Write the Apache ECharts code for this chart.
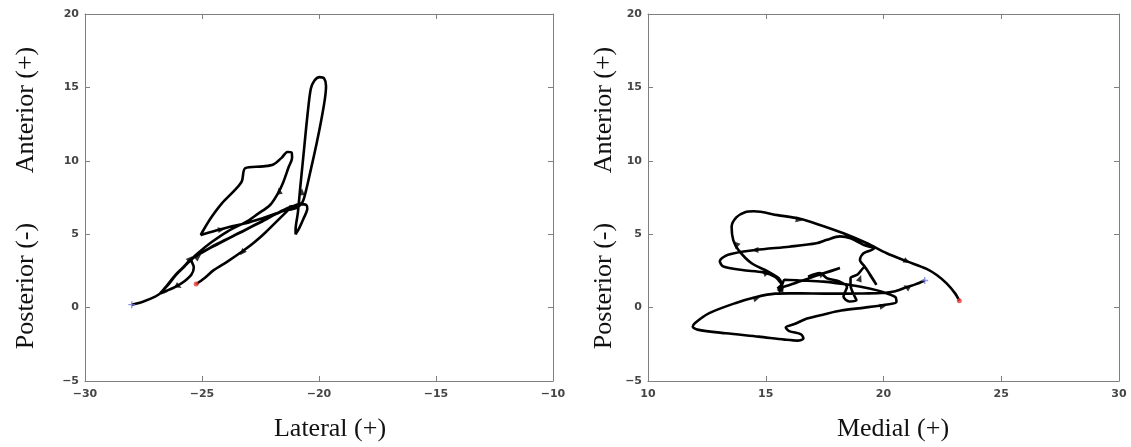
<!DOCTYPE html>
<html>
<head>
<meta charset="utf-8">
<script src="https://cdn.jsdelivr.net/npm/echarts@6/dist/echarts.min.js"></script>
<style>
html,body{margin:0;padding:0;background:#fff;}
#c{width:1131px;height:447px;}
</style>
</head>
<body>
<div id="c"></div>
<script>
// ---------- data ----------
const xTicksLeft = [-30, -25, -20, -15, -10];
const xTicksRight = [10, 15, 20, 25, 30];
const yTicks = [-5, 0, 5, 10, 15, 20];

// Left panel trajectory (Lateral vs Anterior/Posterior)
const leftPath = [
  [-28.0,0.2],[-27.5,0.42],[-27.0,0.75],[-26.8,0.95],
  [-26.5,1.5],[-26.15,2.2],[-25.8,2.75],[-25.5,3.25],
  [-25.0,3.75],[-24.4,4.3],[-23.5,5.0],[-22.6,5.75],[-21.8,6.4],[-21.2,6.85],
  [-20.8,7.05],[-20.55,7.0],[-20.5,6.75],[-20.65,6.1],[-20.85,5.4],[-21.0,5.0],[-21.0,5.3],
  [-20.9,6.5],[-20.8,8.2],[-20.65,10.6],[-20.5,13.0],[-20.35,14.9],[-20.2,15.45],[-19.98,15.7],[-19.78,15.6],[-19.7,15.1],[-19.75,14.2],
  [-19.9,12.8],[-20.1,11.2],[-20.35,9.4],[-20.55,8.0],[-20.7,7.2],[-20.95,6.8],
  [-21.5,6.6],[-22.2,6.2],[-23.0,5.8],[-23.8,5.5],[-24.5,5.2],[-25.05,4.95],
  [-24.95,5.25],[-24.6,6.15],[-24.15,7.1],[-23.6,8.0],[-23.3,8.6],[-23.15,9.5],[-22.4,9.62],[-21.95,9.75],[-21.6,10.2],[-21.35,10.6],[-21.17,10.55],[-21.15,10.2],
  [-21.3,9.56],[-21.54,8.49],[-21.75,7.8],[-22.09,6.99],[-22.6,6.4],
  [-23.0,5.95],[-23.9,5.2],[-24.6,4.45],[-25.1,3.8],[-25.45,3.2],
  [-25.35,2.75],[-25.45,2.25],[-25.75,1.8],[-26.1,1.45],[-26.5,1.15],[-26.8,0.95],
  [-26.45,1.55],[-26.1,2.25],[-25.75,2.8],[-25.4,3.35],[-24.9,3.85],[-24.3,4.35],[-23.4,5.1],[-22.5,5.8],[-21.7,6.5],[-21.15,6.9],
  [-21.6,6.2],[-22.3,5.1],[-22.8,4.4],[-23.3,3.8],[-23.9,3.15],[-24.5,2.55],[-24.9,2.0],[-25.25,1.6]
];
// arrow heads on left panel: [x, y, rotation deg]
const leftArrows = [
  [-25.5,3.34,-45],[-26.0,1.45,-120],[-24.17,5.32,-80],[-23.28,3.75,140],
  [-21.7,7.95,10],[-20.73,7.89,0],[-21.1,6.86,-70],[-25.16,3.45,-50]
];
const leftStart = [-28.0,0.2];
const leftEnd = [-25.25,1.6];

// Right panel trajectory (Medial vs Anterior/Posterior)
const rightPath = [
  [21.75,1.85],[21.35,1.58],[21.0,1.4],[20.5,1.12],[19.9,1.0],[19.0,0.96],[18.0,0.95],[17.0,0.96],[16.0,0.97],[15.4,0.95],
  [14.6,0.72],[13.7,0.3],[12.6,-0.38],[12.0,-1.05],[11.9,-1.3],[12.1,-1.5],[13.3,-1.75],[14.7,-1.98],[15.8,-2.18],[16.35,-2.25],[16.6,-2.1],[16.5,-1.82],[16.0,-1.6],[15.85,-1.35],[16.25,-1.1],[16.75,-0.75],[17.5,-0.45],[18.2,-0.2],[19.2,0.0],[20.0,0.18],[20.55,0.38],[20.5,0.72],[20.0,1.05],
  [19.4,1.3],[18.6,1.54],[17.45,1.77],[16.5,1.85],[15.8,1.9],[15.7,1.6],[15.5,1.3],
  [16.3,1.7],[17.2,2.2],[18.15,2.7],[17.5,2.35],[16.8,2.1],[17.3,2.35],[17.6,2.0],[18.1,1.8],[18.45,1.4],[18.35,1.0],[18.3,0.75],[18.55,0.42],[18.85,0.5],[18.75,0.85],[18.6,1.5],[18.6,2.0],[18.9,2.25],[19.2,2.75],
  [19.43,2.22],[19.7,1.55],[19.45,2.2],[19.2,2.8],[19.0,3.25],[19.15,3.7],[19.6,4.02],
  [19.15,4.27],[18.6,4.72],[18.15,4.85],[17.6,4.62],[17.15,4.38],[16.0,4.15],[14.55,3.92],[13.4,3.6],[13.05,3.15],[13.2,2.8],[14.0,2.56],[14.9,2.4],[15.4,2.1],[15.65,1.65],[15.7,1.3],[15.55,1.1],
  [15.68,1.45],[15.55,2.0],[15.1,2.45],[14.4,3.02],[13.85,3.9],[13.62,4.6],[13.55,5.5],[13.75,6.15],[14.12,6.5],[14.5,6.56],[15.5,6.3],[16.45,6.05],[17.3,5.63],[18.3,5.06],[19.3,4.38],[20.14,3.7],[21.0,3.15],[21.83,2.64],[22.26,2.22],[22.68,1.65],[23.04,0.97],[23.22,0.46]
];
const rightArrows = [
  [16.42,5.97,-100],[21.0,3.15,-115],[14.54,3.92,90],[13.76,4.2,160],[15.05,2.35,-70],
  [14.62,0.63,-70],[19.99,0.1,-80],[20.98,1.4,60],[17.4,2.3,-60],[19.0,2.0,-20],[15.6,1.2,90]
];
const rightStart = [21.75,1.85];
const rightEnd = [23.22,0.46];

// ---------- chart ----------
const chart = echarts.init(document.getElementById('c'));
const frameColor = '#7f7f7f';
const minusFmt = v => String(v).replace('-', '\u2212');
const tickFont = {color: '#454545', fontSize: 11, fontWeight: 'bold', fontFamily: 'DejaVu Sans, sans-serif', formatter: minusFmt};

function bottomX(idx, min, max) {
  return {
    type: 'value', gridIndex: idx, position: 'bottom', min: min, max: max, interval: 5,
    axisLine: {show: true, onZero: false, lineStyle: {color: frameColor, width: 1}},
    axisTick: {show: true, inside: true, length: 5, lineStyle: {color: frameColor}},
    axisLabel: Object.assign({show: true, margin: 8}, tickFont),
    splitLine: {show: false}
  };
}
function topX(idx, min, max) {
  return {
    type: 'value', gridIndex: idx, position: 'top', min: min, max: max, interval: 5,
    axisLine: {show: true, onZero: false, lineStyle: {color: frameColor, width: 1}},
    axisTick: {show: true, inside: true, length: 5, lineStyle: {color: frameColor}},
    axisLabel: {show: false}, splitLine: {show: false}
  };
}
function leftY(idx) {
  return {
    type: 'value', gridIndex: idx, position: 'left', min: -5, max: 20, interval: 5,
    axisLine: {show: true, onZero: false, lineStyle: {color: frameColor, width: 1}},
    axisTick: {show: true, inside: true, length: 5, lineStyle: {color: frameColor}},
    axisLabel: Object.assign({show: true, margin: 6}, tickFont),
    splitLine: {show: false}
  };
}
function rightY(idx) {
  return {
    type: 'value', gridIndex: idx, position: 'right', min: -5, max: 20, interval: 5,
    axisLine: {show: true, onZero: false, lineStyle: {color: frameColor, width: 1}},
    axisTick: {show: true, inside: true, length: 5, lineStyle: {color: frameColor}},
    axisLabel: {show: false}, splitLine: {show: false}
  };
}

const plusPath = 'path://M4,0h2v4h4v2h-4v4h-2v-4h-4v-2h4z';

function arrowItems(arr) {
  return arr.map(a => ({value: [a[0], a[1]], symbolRotate: a[2]}));
}

function panelSeries(xi, yi, path, arrows, start, end) {
  return [
    {type: 'line', xAxisIndex: xi, yAxisIndex: yi, data: path, showSymbol: false, symbol: 'none',
     smooth: 0.3, lineStyle: {color: '#000', width: 2.6}, z: 3, silent: true},
    {type: 'scatter', xAxisIndex: xi, yAxisIndex: yi, data: arrowItems(arrows), symbol: 'triangle',
     symbolSize: [6, 7], itemStyle: {color: '#000'}, z: 4, silent: true},
    {type: 'scatter', xAxisIndex: xi, yAxisIndex: yi, data: [start], symbol: plusPath,
     symbolSize: 7, itemStyle: {color: '#7a7ae0'}, z: 5, silent: true},
    {type: 'scatter', xAxisIndex: xi, yAxisIndex: yi, data: [end], symbol: 'circle',
     symbolSize: 5, itemStyle: {color: '#ee3b3b'}, z: 5, silent: true}
  ];
}

const titleFont = {fontFamily: 'Liberation Serif, Times New Roman, serif', fontSize: 26, fill: '#111'};

chart.setOption({
  animation: false,
  backgroundColor: '#ffffff',
  grid: [
    {left: 85, top: 14, width: 468, height: 367},
    {left: 648, top: 14, width: 471, height: 367}
  ],
  xAxis: [bottomX(0, -30, -10), topX(0, -30, -10), bottomX(1, 10, 30), topX(1, 10, 30)],
  yAxis: [leftY(0), rightY(0), leftY(1), rightY(1)],
  series: [
    ...panelSeries(0, 0, leftPath, leftArrows, leftStart, leftEnd),
    ...panelSeries(2, 2, rightPath, rightArrows, rightStart, rightEnd)
  ],
  graphic: [
    {type: 'text', style: Object.assign({text: 'Lateral (+)', x: 330, y: 429, textAlign: 'center', textVerticalAlign: 'middle'}, titleFont)},
    {type: 'text', style: Object.assign({text: 'Medial (+)', x: 893, y: 429, textAlign: 'center', textVerticalAlign: 'middle'}, titleFont)},
    {type: 'text', x: 26, y: 110, rotation: Math.PI / 2, style: Object.assign({text: 'Anterior (+)', textAlign: 'center', textVerticalAlign: 'middle'}, titleFont)},
    {type: 'text', x: 26, y: 286, rotation: Math.PI / 2, style: Object.assign({text: 'Posterior (-)', textAlign: 'center', textVerticalAlign: 'middle'}, titleFont)},
    {type: 'text', x: 604, y: 110, rotation: Math.PI / 2, style: Object.assign({text: 'Anterior (+)', textAlign: 'center', textVerticalAlign: 'middle'}, titleFont)},
    {type: 'text', x: 604, y: 286, rotation: Math.PI / 2, style: Object.assign({text: 'Posterior (-)', textAlign: 'center', textVerticalAlign: 'middle'}, titleFont)}
  ]
});
</script>
</body>
</html>
